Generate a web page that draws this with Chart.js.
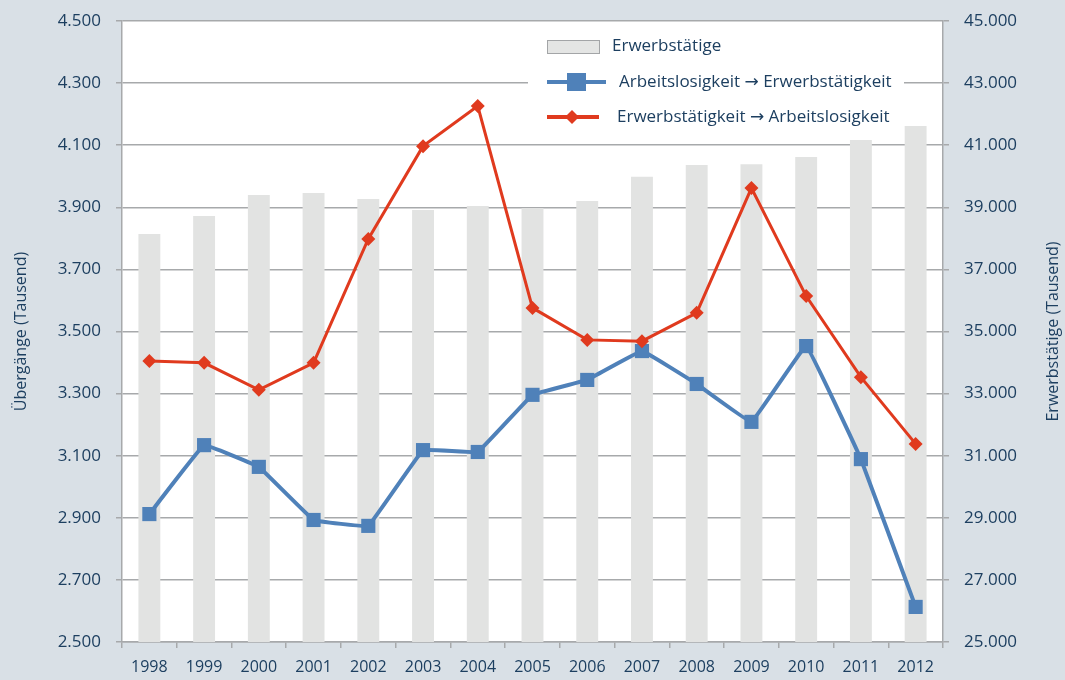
<!DOCTYPE html>
<html>
<head>
<meta charset="utf-8">
<script src="https://cdn.jsdelivr.net/npm/chart.js@4.4.0/dist/chart.umd.min.js"></script>
<style>
  html, body { margin: 0; padding: 0; background: #d9e0e6; }
  #wrap { width: 1065px; height: 680px; }
</style>
</head>
<body>
<div id="wrap"><canvas id="chart" width="1065" height="680"></canvas></div>
<script>
// data (Tausend)
const years = ['1998', '1999', '2000', '2001', '2002', '2003', '2004', '2005', '2006', '2007', '2008', '2009', '2010', '2011', '2012'];
const erwerbstaetige = [38140, 38720, 39400, 39460, 39270, 38910, 39040, 38980, 39200, 39980, 40360, 40390, 40620, 41170, 41620];
const alZuEt = [2912, 3134, 3064, 2893, 2874, 3118, 3112, 3296, 3344, 3437, 3331, 3209, 3453, 3089, 2613];
const etZuAl = [3405, 3399, 3312, 3399, 3798, 4097, 4226, 3576, 3473, 3469, 3560, 3962, 3614, 3353, 3138];

const leftTicks = { min: 2500, max: 4500, step: 200 };
const rightTicks = { min: 25000, max: 45000, step: 2000 };

const Theme = {
    text: '#1d3f60',
    grid: '#a7a9ab',
    bar: '#e2e3e2',
    blue: '#4f81b9',
    red: '#e03a1e',
    font: "'Open Sans', 'DejaVu Sans', sans-serif"
};

const fmt = v => String(v).replace(/\B(?=(\d{3})+(?!\d))/g, '.');

const plotBg = {
    id: 'plotBg',
    beforeDraw(chart) {
        const { ctx, chartArea: a } = chart;
        ctx.save();
        ctx.fillStyle = '#ffffff';
        ctx.fillRect(a.left, a.top, a.right - a.left, a.bottom - a.top);
        ctx.restore();
    }
};

// both axis titles read bottom-to-top
const axisTitles = {
    id: 'axisTitles',
    afterDraw(chart) {
        const { ctx, chartArea: a } = chart;
        const midY = (a.top + a.bottom) / 2;
        ctx.save();
        ctx.fillStyle = Theme.text;
        ctx.font = '16px ' + Theme.font;
        ctx.textAlign = 'center';
        ctx.textBaseline = 'middle';
        [[21, 'Übergänge (Tausend)'], [1053, 'Erwerbstätige (Tausend)']].forEach(([x, t]) => {
            ctx.save();
            ctx.translate(x, midY);
            ctx.rotate(-Math.PI / 2);
            ctx.fillText(t, 0, 0);
            ctx.restore();
        });
        ctx.restore();
    }
};

const boxLegend = {
    id: 'boxLegend',
    afterDatasetsDraw(chart) {
        const ctx = chart.ctx;
        const ds = chart.data.datasets;
        ctx.save();
        ctx.fillStyle = '#ffffff';
        ctx.fillRect(528, 25, 376, 110);
        ctx.font = '17px ' + Theme.font;
        ctx.textBaseline = 'middle';
        ctx.fillStyle = Theme.text;

        // bar entry
        ctx.fillStyle = '#e4e5e4';
        ctx.fillRect(547, 40, 52, 13);
        ctx.strokeStyle = '#a3a5a7';
        ctx.lineWidth = 1;
        ctx.strokeRect(547.5, 40.5, 52, 13);
        ctx.fillStyle = Theme.text;
        ctx.fillText(ds[0].label, 612, 46);

        // blue line entry
        ctx.strokeStyle = ds[1].borderColor;
        ctx.lineWidth = 4;
        ctx.beginPath(); ctx.moveTo(547, 82); ctx.lineTo(606, 82); ctx.stroke();
        ctx.fillStyle = ds[1].borderColor;
        ctx.fillRect(567, 73, 19, 18);
        ctx.fillStyle = Theme.text;
        ctx.fillText(ds[1].label, 619, 82);

        // red line entry
        ctx.strokeStyle = ds[2].borderColor;
        ctx.lineWidth = 4;
        ctx.beginPath(); ctx.moveTo(547, 117); ctx.lineTo(599, 117); ctx.stroke();
        ctx.fillStyle = ds[2].borderColor;
        ctx.beginPath();
        ctx.moveTo(572, 110); ctx.lineTo(579, 117); ctx.lineTo(572, 124); ctx.lineTo(565, 117);
        ctx.closePath(); ctx.fill();
        ctx.fillStyle = Theme.text;
        ctx.fillText(ds[2].label, 617, 117);
        ctx.restore();
    }
};

const fixY = s => { s.width = 122; s.paddingTop = 0; s.paddingBottom = 0; };

const ctx = document.getElementById('chart').getContext('2d');
new Chart(ctx, {
    data: {
        labels: years,
        datasets: [{
            type: 'bar',
            label: 'Erwerbstätige',
            data: erwerbstaetige,
            backgroundColor: Theme.bar,
            borderWidth: 0,
            barPercentage: 0.4,
            categoryPercentage: 1,
            yAxisID: 'yRight',
            order: 3
        },
        {
            type: 'line',
            label: 'Arbeitslosigkeit → Erwerbstätigkeit',
            data: alZuEt,
            borderColor: Theme.blue,
            backgroundColor: Theme.blue,
            borderWidth: 4,
            tension: 0.05,
            pointStyle: 'rect',
            pointRadius: 10,
            pointBorderWidth: 0,
            yAxisID: 'yLeft',
            order: 2
        },
        {
            type: 'line',
            label: 'Erwerbstätigkeit → Arbeitslosigkeit',
            data: etZuAl,
            borderColor: Theme.red,
            backgroundColor: Theme.red,
            borderWidth: 3,
            tension: 0,
            pointStyle: 'rectRot',
            pointRadius: 7,
            pointBorderWidth: 0,
            yAxisID: 'yLeft',
            order: 1
        }]
    },
    options: {
        responsive: false,
        animation: false,
        layout: { padding: { top: 21, left: 0, right: 0, bottom: 0 } },
        plugins: {
            legend: { display: false },
            tooltip: { enabled: false }
        },
        scales: {
            x: {
                offset: true,
                grid: { offset: true, drawOnChartArea: false, drawTicks: true, tickLength: 6, color: Theme.grid, lineWidth: 1.5 },
                border: { color: Theme.grid, width: 1.5 },
                ticks: { color: Theme.text, font: { family: Theme.font, size: 16 }, padding: 10, maxRotation: 0 },
                afterFit: s => { s.height = 38; }
            },
            yLeft: {
                position: 'left',
                min: leftTicks.min,
                max: leftTicks.max,
                grid: { color: Theme.grid, lineWidth: 1.5, tickLength: 6 },
                border: { color: Theme.grid, width: 1.5 },
                ticks: { stepSize: leftTicks.step, color: Theme.text, font: { family: Theme.font, size: 17 }, padding: 15, callback: v => fmt(v) },
                afterFit: fixY
            },
            yRight: {
                position: 'right',
                min: rightTicks.min,
                max: rightTicks.max,
                grid: { drawOnChartArea: false, color: Theme.grid, lineWidth: 1.5, tickLength: 6 },
                border: { color: Theme.grid, width: 1.5 },
                ticks: { stepSize: rightTicks.step, color: Theme.text, font: { family: Theme.font, size: 17 }, padding: 15, callback: v => fmt(v) },
                afterFit: fixY
            }
        }
    },
    plugins: [plotBg, axisTitles, boxLegend]
});
</script>
</body>
</html>
